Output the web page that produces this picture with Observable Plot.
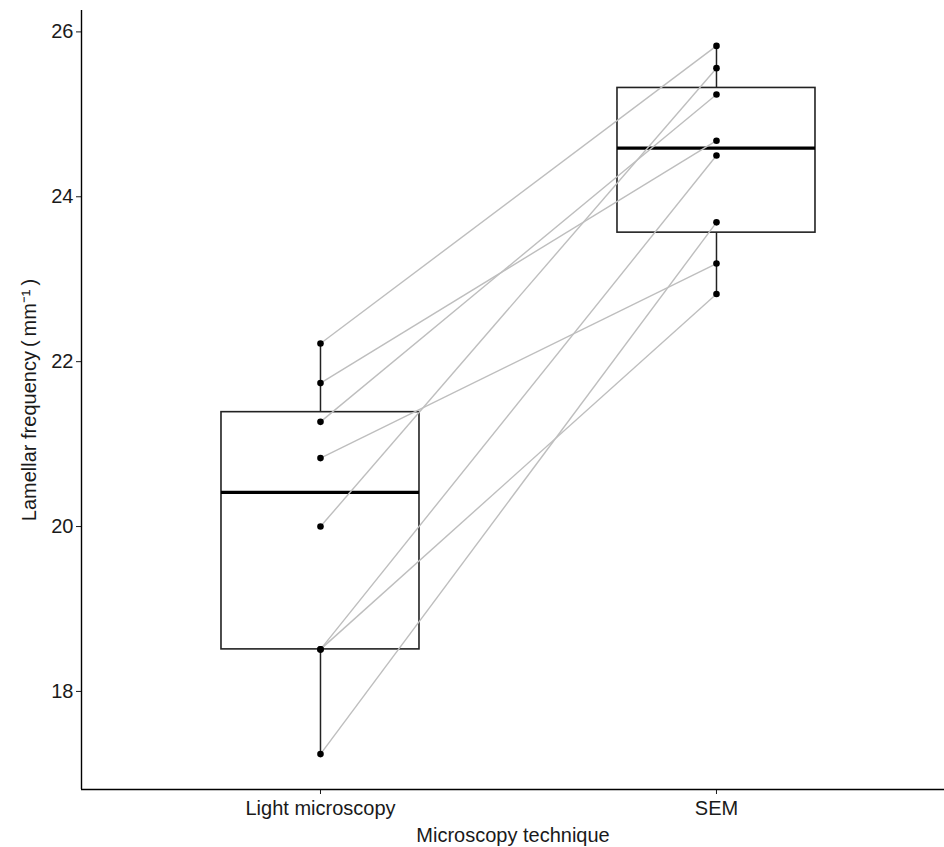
<!DOCTYPE html>
<html>
<head>
<meta charset="utf-8">
<script src="https://cdn.jsdelivr.net/npm/d3@7"></script>
<script src="https://cdn.jsdelivr.net/npm/@observablehq/plot@0.6"></script>
<style>
  html, body { margin: 0; padding: 0; background: #fff; }
  #chart { width: 944px; height: 847px; }
</style>
</head>
<body>
<div id="chart"></div>
<script>
// ---- data ----
const categories = ["Light microscopy", "SEM"];
// paired measurements per specimen: light microscopy -> SEM
const lightValues = [22.22, 21.74, 21.27, 20.83, 20.00, 18.51, 18.51, 17.24];
const semValues   = [25.83, 24.68, 25.24, 23.19, 25.56, 24.50, 22.82, 23.69];
const yTicks = [18, 20, 22, 24, 26];
const xTitle = "Microscopy technique";
const yTitle = "Lamellar frequency\u2009(\u2009mm\u207B\u00B9\u2009)";

// ---- derived tables ----
const pairs = lightValues.map((v, i) => ({id: i, a: v, b: semValues[i]}));
const points = [
  ...lightValues.map((v, i) => ({id: i, pos: 1, value: v})),
  ...semValues.map((v, i) => ({id: i, pos: 2, value: v}))
];
function boxStats(values, pos) {
  const s = values.slice().sort(d3.ascending);
  const q1 = d3.quantile(s, 0.25), med = d3.quantile(s, 0.5), q3 = d3.quantile(s, 0.75);
  const iqr = q3 - q1;
  const lo = d3.min(s.filter(v => v >= q1 - 1.5 * iqr));
  const hi = d3.max(s.filter(v => v <= q3 + 1.5 * iqr));
  return {pos, q1, med, q3, lo, hi};
}
const boxes = [boxStats(lightValues, 1), boxStats(semValues, 2)];
const halfWidth = 0.25;

const allVals = lightValues.concat(semValues);
const yMin = d3.min(allVals), yMax = d3.max(allVals);
const yPad = (yMax - yMin) * 0.05;
const yDomain = [yMin - yPad, yMax + yPad];
const xDomain = [0.3965, 2.5758];

const chart = Plot.plot({
  width: 944,
  height: 847,
  marginLeft: 81,
  marginRight: 0,
  marginTop: 10,
  marginBottom: 58,
  style: {fontFamily: "Liberation Sans, Arial, Helvetica, sans-serif", background: "#fff"},
  x: {domain: xDomain},
  y: {domain: yDomain},
  marks: [
    // whiskers
    Plot.ruleX(boxes, {x: "pos", y1: "lo", y2: "q1", stroke: "#222", strokeWidth: 1.5}),
    Plot.ruleX(boxes, {x: "pos", y1: "q3", y2: "hi", stroke: "#222", strokeWidth: 1.5}),
    // boxes
    Plot.rect(boxes, {x1: d => d.pos - halfWidth, x2: d => d.pos + halfWidth, y1: "q1", y2: "q3",
      fill: "#fff", stroke: "#222", strokeWidth: 1.6}),
    // medians
    Plot.ruleY(boxes, {y: "med", x1: d => d.pos - halfWidth, x2: d => d.pos + halfWidth,
      stroke: "#000", strokeWidth: 3.2}),
    // paired lines
    Plot.link(pairs, {x1: () => 1, y1: "a", x2: () => 2, y2: "b", stroke: "#bebebe", strokeWidth: 1.4}),
    // points
    Plot.dot(points, {x: "pos", y: "value", r: 3.3, fill: "#000", stroke: "none"}),
    // axes
    Plot.axisY({ticks: yTicks, tickSize: 5, tickPadding: 3, fontSize: 20, color: "#1a1a1a",
      label: yTitle, labelAnchor: "center", labelOffset: 60, labelArrow: "none"}),
    Plot.axisX({ticks: [1, 2], tickFormat: d => categories[d - 1], tickSize: 5, tickPadding: 6,
      fontSize: 20, color: "#1a1a1a",
      label: xTitle, labelAnchor: "center", labelOffset: 52, labelArrow: "none"}),
    Plot.ruleX([xDomain[0]], {stroke: "#000", strokeWidth: 1.4}),
    Plot.ruleY([yDomain[0]], {stroke: "#000", strokeWidth: 1.4})
  ]
});
document.getElementById("chart").appendChild(chart);
</script>
</body>
</html>
